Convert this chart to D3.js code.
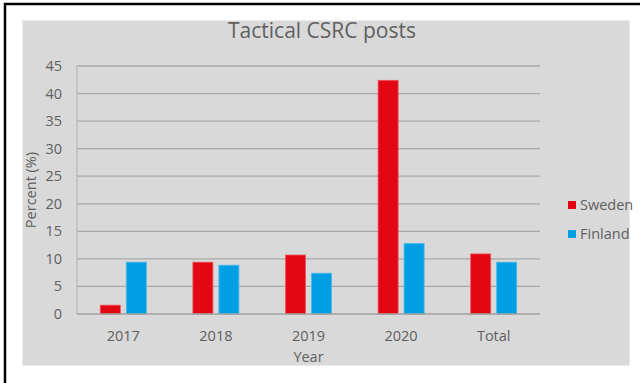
<!DOCTYPE html>
<html>
<head>
<meta charset="utf-8">
<script src="https://cdn.jsdelivr.net/npm/d3@7"></script>
<style>
  html, body { margin: 0; padding: 0; background: #fff; }
  svg { display: block; font-family: "Open Sans", sans-serif; }
</style>
</head>
<body>
<script>
// values
var categories = ["2017", "2018", "2019", "2020", "Total"];
var seriesNames = ["Sweden", "Finland"];
var sweden = [1.6, 9.4, 10.7, 42.4, 10.9];
var finland = [9.4, 8.85, 7.4, 12.8, 9.4];
var yTicks = [0, 5, 10, 15, 20, 25, 30, 35, 40, 45];
var colors = ["#e30613", "#009fe3"];
var strokes = ["#f0505a", "#4ab8ea"];

var W = 640, H = 383;
var plot = {left: 77, top: 66, right: 540, bottom: 314};

var svg = d3.select("body").append("svg")
    .attr("width", W)
    .attr("height", H)
    .attr("viewBox", "0 0 " + W + " " + H);

// outer frame, only top and left edges show
svg.append("rect")
    .attr("x", 5).attr("y", 4)
    .attr("width", 700).attr("height", 500)
    .attr("fill", "none")
    .attr("stroke", "#000")
    .attr("stroke-width", 2.5);

// grey chart area
svg.append("rect")
    .attr("x", 22.5).attr("y", 20.5)
    .attr("width", 607).attr("height", 345)
    .attr("fill", "#d9d9d9")
    .attr("stroke", "#ececec")
    .attr("stroke-width", 1);

var x0 = d3.scaleBand()
    .domain(categories)
    .range([plot.left, plot.right]);

var x1 = d3.scaleBand()
    .domain(seriesNames)
    .range([x0.bandwidth() / 2 - 23, x0.bandwidth() / 2 + 23])
    .paddingInner(0.23);

var y = d3.scaleLinear()
    .domain([0, 45])
    .range([plot.bottom, plot.top]);

// gridlines
svg.append("g")
    .selectAll("line")
    .data(yTicks.filter(function(d){ return d > 0; }))
    .join("line")
    .attr("x1", plot.left).attr("x2", plot.right)
    .attr("y1", function(d){ return y(d); })
    .attr("y2", function(d){ return y(d); })
    .attr("stroke", "#a8a8a8")
    .attr("stroke-width", 1.3);

// plot border left
svg.append("line")
    .attr("x1", plot.left).attr("x2", plot.left)
    .attr("y1", plot.top).attr("y2", plot.bottom)
    .attr("stroke", "#b0b0b0")
    .attr("stroke-width", 1);

// bars
var rows = categories.map(function(c, i){
    return {cat: c, vals: [sweden[i], finland[i]]};
});

var groups = svg.append("g")
    .selectAll("g")
    .data(rows)
    .join("g")
    .attr("transform", function(d){ return "translate(" + x0(d.cat) + ",0)"; });

groups.selectAll("rect")
    .data(function(d){ return d.vals.map(function(v, k){ return {s: seriesNames[k], v: v, k: k}; }); })
    .join("rect")
    .attr("x", function(d){ return x1(d.s); })
    .attr("width", x1.bandwidth())
    .attr("y", function(d){ return y(d.v); })
    .attr("height", function(d){ return y(0) - y(d.v); })
    .attr("fill", function(d){ return colors[d.k]; })
    .attr("stroke", function(d){ return strokes[d.k]; })
    .attr("stroke-width", 0.8);

// x axis line
svg.append("line")
    .attr("x1", plot.left).attr("x2", plot.right)
    .attr("y1", plot.bottom).attr("y2", plot.bottom)
    .attr("stroke", "#a0a0a0")
    .attr("stroke-width", 1.5);

// y tick labels
svg.append("g")
    .selectAll("text")
    .data(yTicks)
    .join("text")
    .attr("x", 62)
    .attr("y", function(d){ return y(d) + 5; })
    .attr("text-anchor", "end")
    .attr("font-size", 14.5)
    .attr("fill", "#606060")
    .text(function(d){ return d; });

// x tick labels
svg.append("g")
    .selectAll("text")
    .data(categories)
    .join("text")
    .attr("x", function(d){ return x0(d) + x0.bandwidth() / 2; })
    .attr("y", 341)
    .attr("text-anchor", "middle")
    .attr("font-size", 14.5)
    .attr("fill", "#606060")
    .text(function(d){ return d; });

// title
svg.append("text")
    .attr("x", 322).attr("y", 38)
    .attr("text-anchor", "middle")
    .attr("font-size", 21)
    .attr("fill", "#606060")
    .text("Tactical CSRC posts");

// axis titles
svg.append("text")
    .attr("x", (plot.left + plot.right) / 2).attr("y", 362)
    .attr("text-anchor", "middle")
    .attr("font-size", 14.5)
    .attr("fill", "#606060")
    .text("Year");

svg.append("text")
    .attr("transform", "translate(36,190) rotate(-90)")
    .attr("text-anchor", "middle")
    .attr("font-size", 14.5)
    .attr("fill", "#606060")
    .text("Percent (%)");

// legend
var legend = svg.append("g")
    .selectAll("g")
    .data(seriesNames)
    .join("g")
    .attr("transform", function(d, i){ return "translate(568," + (201 + i * 29) + ")"; });

legend.append("rect")
    .attr("width", 8).attr("height", 8)
    .attr("fill", function(d, i){ return colors[i]; });

legend.append("text")
    .attr("x", 12).attr("y", 8.5)
    .attr("font-size", 14.5)
    .attr("fill", "#606060")
    .text(function(d){ return d; });
</script>
</body>
</html>
